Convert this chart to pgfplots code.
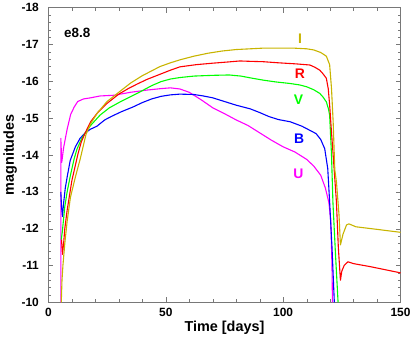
\documentclass[border=0pt]{standalone}
\usepackage{fontspec}
\setmainfont{Liberation Sans}
\usepackage{pgfplots}
\pgfplotsset{compat=1.18}
\definecolor{iband}{RGB}{200,180,0}
\definecolor{rband}{RGB}{255,0,0}
\definecolor{vband}{RGB}{0,255,0}
\definecolor{bband}{RGB}{0,0,255}
\definecolor{uband}{RGB}{255,0,255}
\definecolor{axgray}{RGB}{120,120,120}

\begin{document}
\begin{tikzpicture}
\begin{axis}[scale only axis,width=353bp,height=295.5bp,
  xmin=0,xmax=150,ymin=-18,ymax=-10,y dir=reverse,
  xtick={0,50,100,150},ytick={-18,-17,...,-10},
  minor x tick num=4,minor y tick num=4,
  tick align=inside,major tick length=5bp,minor tick length=3bp,
  axis line style={axgray},tick style={axgray},
  /pgf/number format/assume math mode=true,
  tick label style={font=\fontsize{12}{14}\selectfont\bfseries},
  yticklabel style={xshift=-6bp},
  xticklabel style={yshift=-2bp},
  xlabel={Time [days]},ylabel={magnitudes},
  label style={font=\fontsize{14.5}{16}\selectfont\bfseries},
  xlabel style={yshift=2bp},
  ylabel style={yshift=-2bp},
  every axis plot/.append style={line width=1.1bp,line join=round},
  clip=true]
% U
\addplot[uband] coordinates {(5.3,-10) (5.3,-14.45) (5.7,-13.8) (6.5,-14.2) (8,-14.7) (9.5,-15.1) (11,-15.3)
 (12.5,-15.45) (15,-15.52) (18,-15.55) (22,-15.6) (28,-15.62) (35,-15.7) (42,-15.76) (48,-15.8) (52,-15.82)
 (56,-15.79) (60,-15.7) (65,-15.5) (70,-15.28) (75,-15.12) (80,-14.95) (85,-14.8) (90,-14.6) (95,-14.4)
 (100,-14.22) (105,-14.08) (110,-13.88) (113,-13.7) (116,-13.45) (118,-13.1) (119.5,-12.7) (120.3,-12.2)
 (120.8,-11) (121,-10)};
% B
\addplot[bband] coordinates {(5.3,-13.0) (5.6,-12.6) (6,-12.33) (6.5,-12.7) (7.2,-13.1) (8,-13.4) (9.3,-13.85)
 (11.5,-14.22) (13.5,-14.45) (15.7,-14.6) (18,-14.7) (20.7,-14.78) (24,-14.95) (27,-15.05) (31,-15.17)
 (36,-15.3) (40,-15.42) (44,-15.52) (48,-15.59) (52,-15.63) (56,-15.65) (62,-15.64) (66,-15.6) (70,-15.55)
 (75,-15.45) (80,-15.35) (86,-15.25) (90,-15.15) (94,-15.04) (98,-14.96) (103,-14.9) (108,-14.78)
 (111,-14.68) (114,-14.58) (116,-14.42) (117.7,-14.17) (119,-13.63) (119.8,-12.72) (120.8,-11.5) (121.8,-10)};
% V
\addplot[vband] coordinates {(5.5,-11.7) (6,-11.95) (7,-12.6) (8,-13.0) (9.4,-13.45) (11,-13.9) (12.2,-14.16)
 (14,-14.42) (15.7,-14.6) (18,-14.8) (22,-15.08) (26,-15.28) (30.6,-15.44) (35,-15.58) (39,-15.71)
 (44,-15.88) (48,-15.99) (52,-16.06) (56,-16.1) (62,-16.14) (70,-16.16) (77,-16.17) (82,-16.14) (87,-16.08)
 (91.5,-16.03) (97,-15.98) (102.8,-15.94) (107,-15.9) (110,-15.85) (113,-15.77) (115.6,-15.67) (117,-15.57)
 (118.4,-15.44) (119.3,-15.25) (119.8,-15.08) (120.6,-14.0) (121.2,-12.72) (122.3,-11.3) (123.4,-10)};
% R
\addplot[rband] coordinates {(5.6,-11.7) (6,-11.3) (6.5,-11.6) (7,-12.0) (8,-12.5) (10,-13.3) (12.5,-14.0)
 (14,-14.35) (15.7,-14.6) (18,-14.9) (21,-15.15) (25,-15.4) (30,-15.65) (34,-15.8) (37.7,-15.92) (42,-16.05)
 (47.6,-16.19) (52,-16.3) (56,-16.39) (63,-16.45) (70,-16.49) (76,-16.52) (81.6,-16.55) (86,-16.54)
 (91.5,-16.53) (98,-16.5) (105.7,-16.47) (111.4,-16.44) (113.5,-16.38) (115.6,-16.3) (117,-16.2)
 (118.4,-16.08) (119.2,-15.8) (119.8,-15.36) (120.5,-14.7) (121.3,-14.0) (122.7,-12.72) (123.5,-11.5)
 (124.4,-10.6) (125,-10.85) (126,-11.0) (127.6,-11.1) (130,-11.05) (137,-10.97) (150,-10.8)};
% I
\addplot[iband] coordinates {(5.5,-10) (5.8,-10.6) (6.2,-11.0) (7,-11.6) (8,-12.2) (9.4,-12.85) (11.5,-13.4)
 (13.6,-13.9) (16,-14.55) (18,-14.85) (21,-15.15) (25,-15.45) (30.6,-15.73) (35,-15.95) (40,-16.15)
 (47.6,-16.4) (52,-16.5) (56,-16.58) (62,-16.68) (68,-16.76) (74,-16.82) (80,-16.86) (86,-16.88)
 (92,-16.9) (98,-16.9) (104,-16.9) (110,-16.88) (113,-16.85) (116,-16.78) (118.4,-16.68) (119.8,-16.45)
 (120.6,-15.8) (121.3,-14.9) (122,-13.6) (122.7,-13.27) (123.8,-12.37) (124.4,-11.56) (125.5,-11.85)
 (127,-12.1) (128,-12.13) (131,-12.05) (140,-11.98) (150,-11.9)};
\node[font=\fontsize{13.5}{15}\selectfont\bfseries] at (axis cs:12.3,-17.3) {e8.8};
\node[font=\fontsize{14}{16}\selectfont\bfseries,text=iband] at (axis cs:107.2,-17.15) {I};
\node[font=\fontsize{14}{16}\selectfont\bfseries,text=rband] at (axis cs:107.1,-16.2) {R};
\node[font=\fontsize{14}{16}\selectfont\bfseries,text=vband] at (axis cs:106.5,-15.5) {V};
\node[font=\fontsize{14}{16}\selectfont\bfseries,text=bband] at (axis cs:106.8,-14.45) {B};
\node[font=\fontsize{14}{16}\selectfont\bfseries,text=uband] at (axis cs:106.5,-13.48) {U};
\end{axis}
\path (current axis.south west) ++(-47.5bp,-40bp) rectangle ++(415bp,342bp);
\end{tikzpicture}
\end{document}
